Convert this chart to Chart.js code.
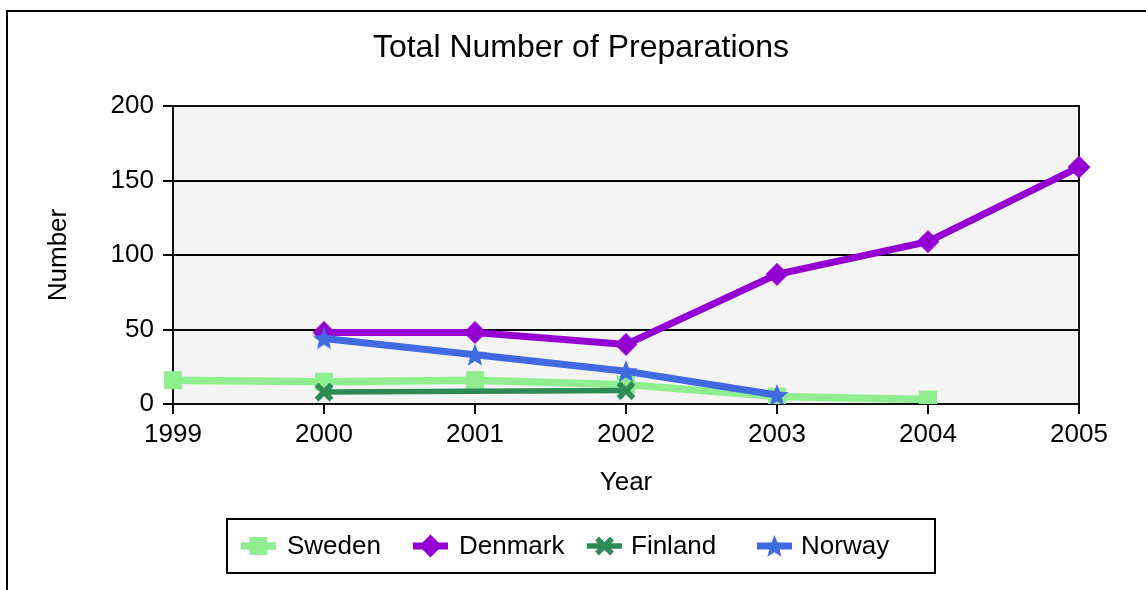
<!DOCTYPE html>
<html>
<head>
<meta charset="utf-8">
<script src="https://cdn.jsdelivr.net/npm/chart.js@4.4.1/dist/chart.umd.min.js"></script>
<style>
  body { margin: 0; background: #fff; }
  #wrap { width: 1146px; height: 590px; }
</style>
</head>
<body>
<div id="wrap"><canvas id="chart" width="1146" height="590"></canvas></div>
<script>
const years = ['1999', '2000', '2001', '2002', '2003', '2004', '2005'];
const sweden = [16, 15, 16, 13, 5, 3, null];
const denmark = [null, 48, 48, 40, 87, 109, 159];
const finland = [null, 8, null, 9, null, null, null];
const norway = [null, 44, 33, 22, 6, null, null];
const yTicks = [0, 50, 100, 150, 200];

const FONT = '"Liberation Sans", Arial, sans-serif';

// marker shapes (Chart.js has no filled star / thick cross)
function drawMarker(ctx, type, color, x, y) {
    ctx.save();
    ctx.fillStyle = color;
    ctx.strokeStyle = color;
    if (type === 'square') {
        ctx.fillRect(x - 9, y - 9, 18, 18);
    } else if (type === 'diamond') {
        ctx.beginPath();
        ctx.moveTo(x, y - 11.5);
        ctx.lineTo(x + 11.5, y);
        ctx.lineTo(x, y + 11.5);
        ctx.lineTo(x - 11.5, y);
        ctx.closePath();
        ctx.fill();
    } else if (type === 'cross') {
        ctx.lineWidth = 5.5;
        ctx.lineCap = 'square';
        ctx.beginPath();
        ctx.moveTo(x - 5.5, y - 5.5); ctx.lineTo(x + 5.5, y + 5.5);
        ctx.moveTo(x + 5.5, y - 5.5); ctx.lineTo(x - 5.5, y + 5.5);
        ctx.stroke();
    } else if (type === 'star') {
        ctx.beginPath();
        for (let i = 0; i < 10; i++) {
            const r = i % 2 === 0 ? 12 : 5.2;
            const a = -Math.PI / 2 + i * Math.PI / 5;
            const px = x + r * Math.cos(a), py = y + r * Math.sin(a) + 1;
            if (i === 0) ctx.moveTo(px, py); else ctx.lineTo(px, py);
        }
        ctx.closePath();
        ctx.fill();
    }
    ctx.restore();
}

function markerImage(type, color) {
    const c = document.createElement('canvas');
    c.width = 28; c.height = 28;
    drawMarker(c.getContext('2d'), type, color, 14, 14);
    return c;
}

const series = [
    { label: 'Sweden', data: sweden, color: '#90ee90', marker: 'square', width: 7.5, order: 4, lx: 241, tx: 287 },
    { label: 'Denmark', data: denmark, color: '#9400d3', marker: 'diamond', width: 7, order: 3, lx: 413, tx: 459 },
    { label: 'Finland', data: finland, color: '#2e8b57', marker: 'cross', width: 5.5, order: 2, lx: 587, tx: 631 },
    { label: 'Norway', data: norway, color: '#4169e1', marker: 'star', width: 7, order: 1, lx: 757, tx: 801 }
];

const framePlugin = {
    id: 'frame',
    beforeDraw(chart) {
        const { ctx, chartArea: a } = chart;
        ctx.save();
        ctx.fillStyle = '#f4f4f4';
        ctx.fillRect(a.left, a.top, a.right - a.left, a.bottom - a.top);
        // outer frame: left and top only
        ctx.strokeStyle = '#000';
        ctx.lineWidth = 2;
        ctx.beginPath();
        ctx.moveTo(7, 590);
        ctx.lineTo(7, 11);
        ctx.lineTo(1146, 11);
        ctx.stroke();
        // title
        ctx.fillStyle = '#000';
        ctx.font = '32px ' + FONT;
        ctx.textAlign = 'center';
        ctx.textBaseline = 'middle';
        ctx.fillText('Total Number of Preparations', 581, 48);
        ctx.restore();
    },
    beforeDatasetsDraw(chart) {
        const { ctx, chartArea: a } = chart;
        ctx.save();
        ctx.strokeStyle = '#111';
        ctx.lineWidth = 2;
        ctx.strokeRect(a.left, a.top, a.right - a.left, a.bottom - a.top);
        ctx.restore();
    },
    afterDraw(chart) {
        const ctx = chart.ctx;
        ctx.save();
        ctx.strokeStyle = '#000';
        ctx.lineWidth = 2;
        ctx.strokeRect(227, 519, 708, 54);
        ctx.font = '26px ' + FONT;
        ctx.textBaseline = 'middle';
        ctx.textAlign = 'left';
        series.forEach(s => {
            ctx.strokeStyle = s.color;
            ctx.lineWidth = s.width;
            ctx.beginPath();
            ctx.moveTo(s.lx, 546);
            ctx.lineTo(s.lx + 35, 546);
            ctx.stroke();
            drawMarker(ctx, s.marker, s.color, s.lx + 17.5, 546);
            ctx.fillStyle = '#000';
            ctx.fillText(s.label, s.tx, 547);
        });
        ctx.restore();
    }
};

new Chart(document.getElementById('chart').getContext('2d'), {
    type: 'line',
    data: {
        labels: years,
        datasets: series.map(s => ({
            label: s.label,
            data: s.data,
            borderColor: s.color,
            backgroundColor: s.color,
            borderWidth: s.width,
            pointStyle: markerImage(s.marker, s.color),
            pointRadius: 10,
            tension: 0,
            spanGaps: true,
            order: s.order
        }))
    },
    options: {
        responsive: false,
        animation: false,
        layout: { padding: { left: 0, right: 67, top: 106, bottom: 0 } },
        plugins: {
            legend: { display: false },
            title: { display: false },
            tooltip: { enabled: false }
        },
        scales: {
            x: {
                offset: false,
                grid: { drawOnChartArea: false, color: '#000', lineWidth: 2, tickLength: 10 },
                border: { display: false },
                ticks: { color: '#000', font: { family: FONT, size: 26 }, padding: 5, maxRotation: 0 },
                title: { display: true, text: 'Year', color: '#000', font: { family: FONT, size: 26 }, padding: { bottom: 92 } },
                afterFit: s => { s.height = 186; }
            },
            y: {
                min: 0,
                max: 200,
                afterBuildTicks: s => { s.ticks = yTicks.map(v => ({ value: v })); },
                grid: { color: '#000', lineWidth: 2, tickLength: 10 },
                border: { display: true, color: '#000', width: 2 },
                ticks: { color: '#000', font: { family: FONT, size: 26 }, padding: 9 },
                title: { display: true, text: 'Number', color: '#000', font: { family: FONT, size: 26 }, padding: { top: 43 } },
                afterFit: s => { s.width = 173; }
            }
        }
    },
    plugins: [framePlugin]
});
</script>
</body>
</html>
